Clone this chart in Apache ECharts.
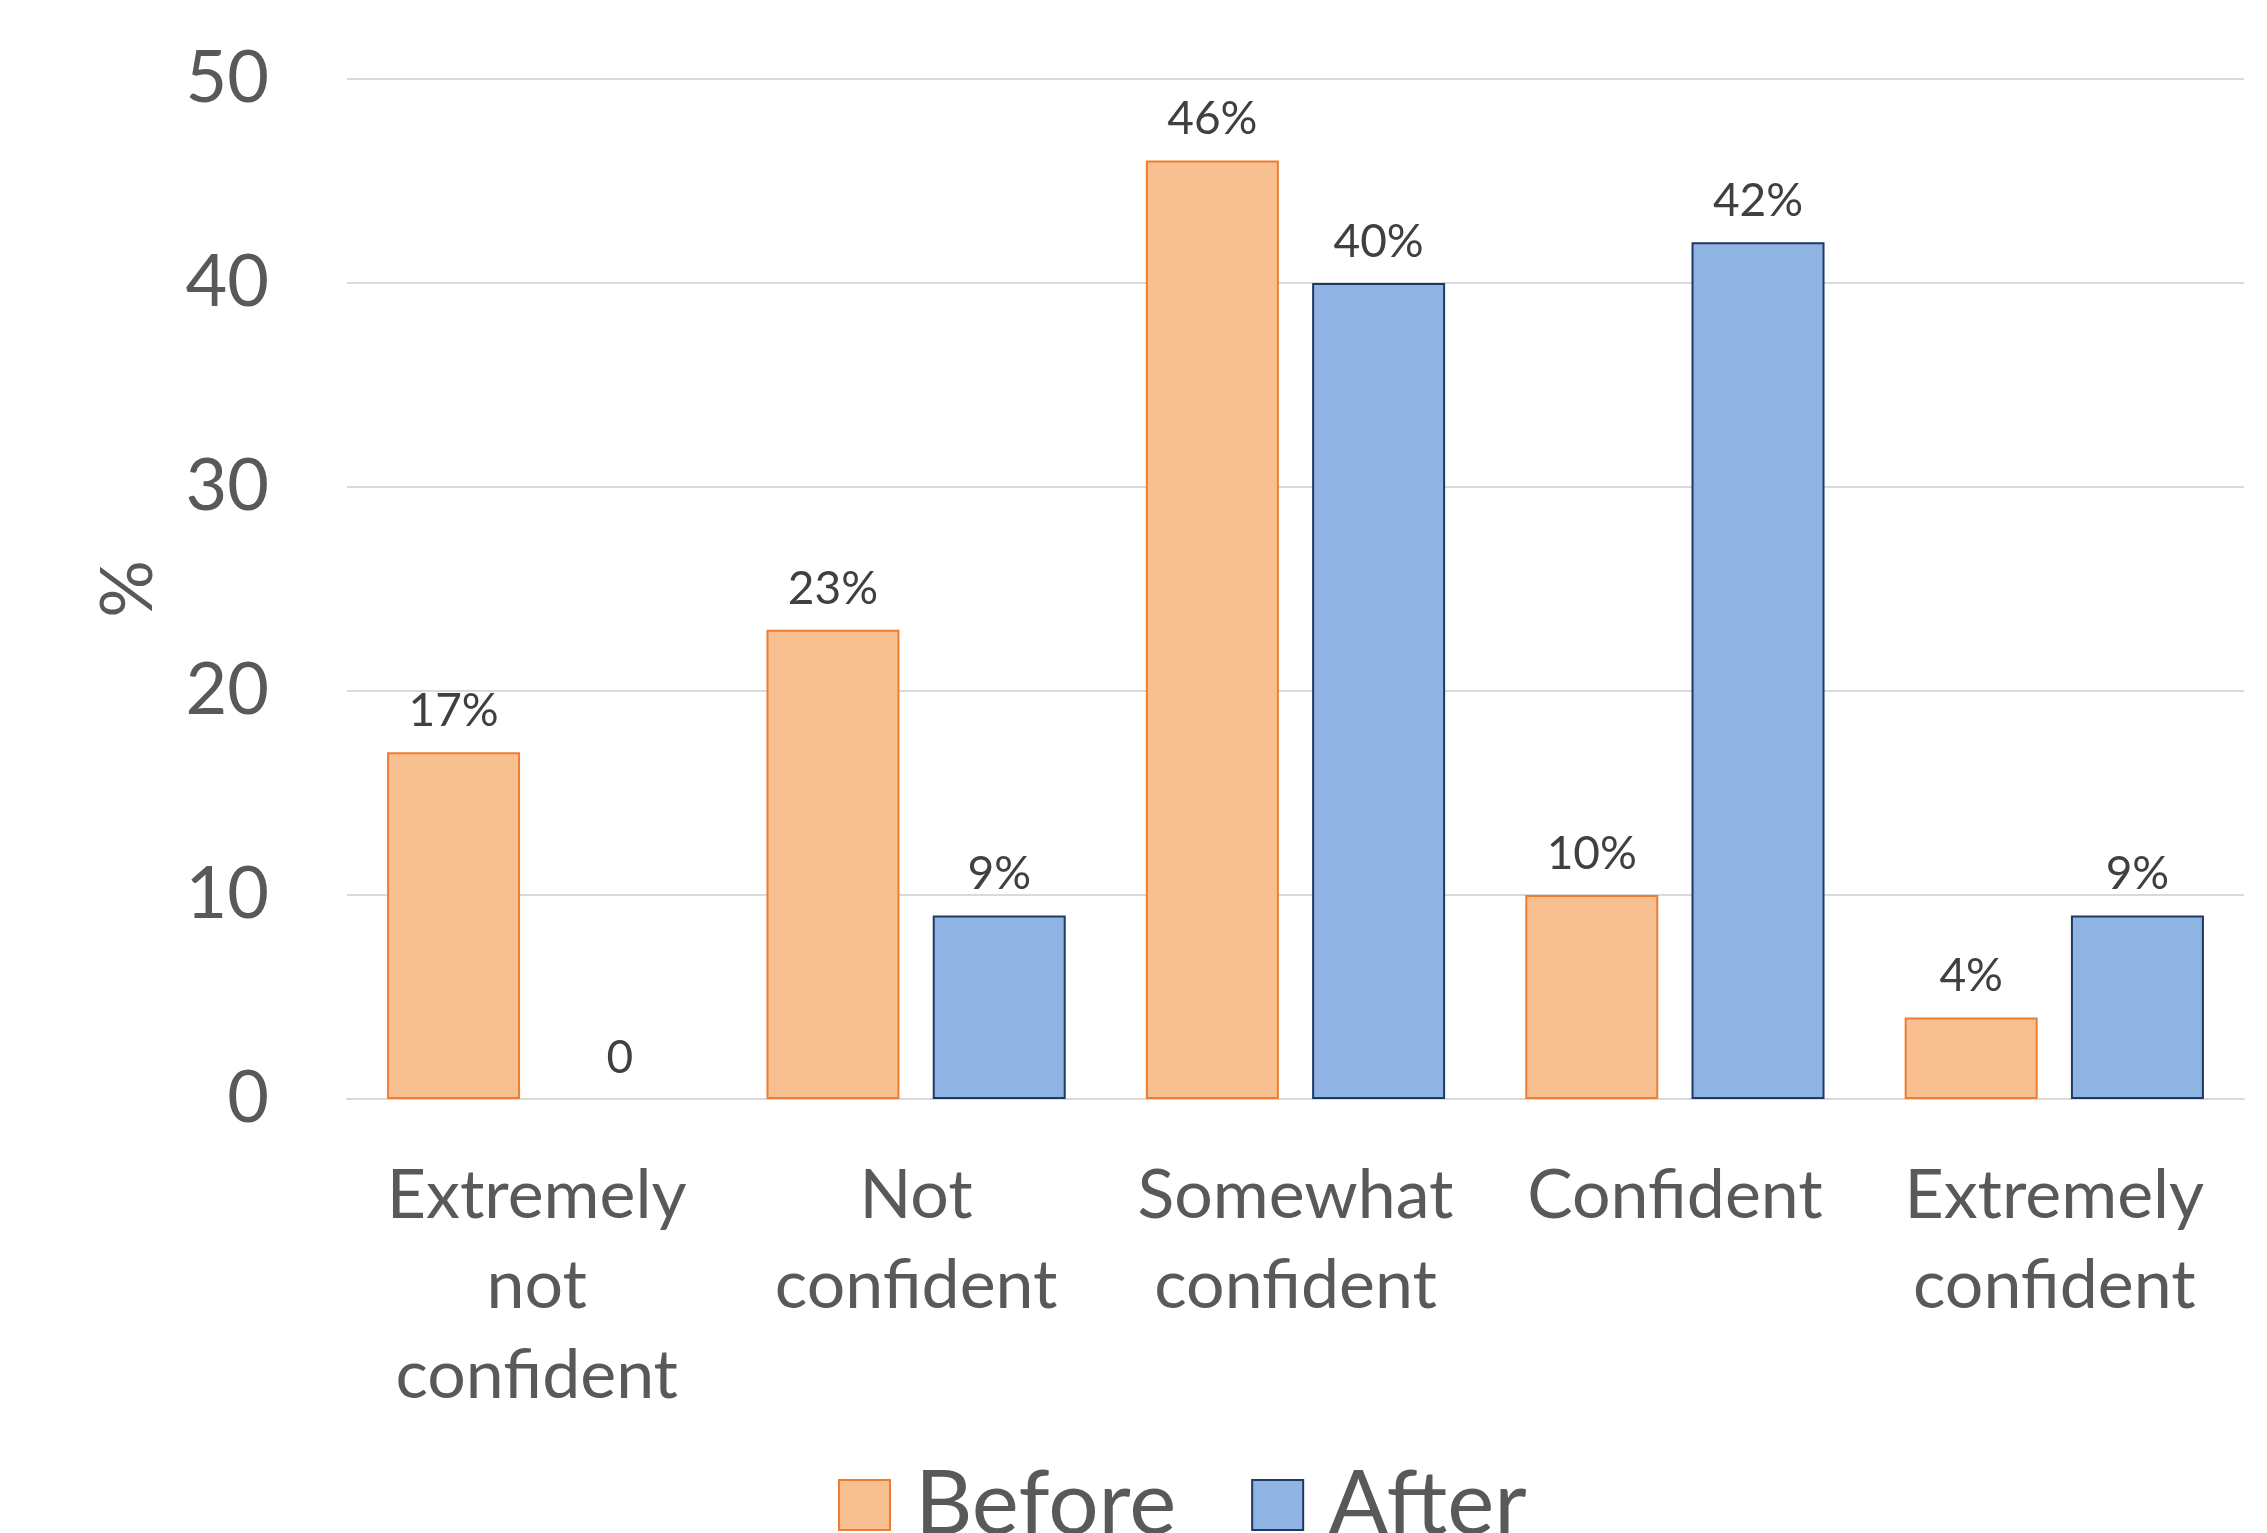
<!DOCTYPE html>
<html>
<head>
    <meta charset="utf-8">
    <title>ECharts</title>
    <script src="https://cdn.jsdelivr.net/npm/echarts@6/dist/echarts.min.js"></script>
    <style>
        html, body { margin: 0; padding: 0; background: #fff; }
    </style>
</head>
<body>
    <div id="main" style="width: 2267px;height:1533px;"></div>
    <script type="text/javascript">
        // data
        var categories = ['Extremely\nnot\nconfident', 'Not\nconfident', 'Somewhat\nconfident', 'Confident', 'Extremely\nconfident'];
        var before = [17, 23, 46, 10, 4];
        var after = [0, 9, 40, 42, 9];
        var yTicks = [0, 10, 20, 30, 40, 50];

        var myChart = echarts.init(document.getElementById('main'));

        var font = 'Lato, "Open Sans", sans-serif';

        function pctLabel(p) {
            return p.value === 0 ? '0' : p.value + '%';
        }

        // zero-height bars get no outline (Excel draws nothing there)
        function toItems(arr) {
            return arr.map(function (v) {
                return v === 0 ? { value: v, itemStyle: { borderWidth: 0 } } : v;
            });
        }

        var option = {
            backgroundColor: '#ffffff',
            textStyle: { fontFamily: font },
            grid: {
                left: 347,
                right: 23,
                top: 79,
                bottom: 434
            },
            legend: {
                data: ['Before', 'After'],
                left: 833,
                top: 1455,
                icon: 'rect',
                itemWidth: 51,
                itemHeight: 50,
                itemGap: 75,
                textStyle: {
                    fontSize: 89,
                    color: '#595959',
                    lineHeight: 90,
                    padding: [0, 0, 0, 20]
                }
            },
            xAxis: {
                type: 'category',
                data: categories,
                axisLine: { lineStyle: { color: '#D9D9D9', width: 2 } },
                axisTick: { show: false },
                axisLabel: {
                    fontSize: 68,
                    color: '#595959',
                    lineHeight: 90,
                    margin: 52,
                    interval: 0
                }
            },
            yAxis: {
                type: 'value',
                min: yTicks[0],
                max: yTicks[yTicks.length - 1],
                interval: 10,
                name: '%',
                nameLocation: 'middle',
                nameGap: 182,
                nameTextStyle: { fontSize: 72, color: '#595959' },
                axisLine: { show: false },
                axisTick: { show: false },
                axisLabel: { fontSize: 72, color: '#595959', margin: 78 },
                splitLine: { lineStyle: { color: '#D9D9D9', width: 2 } }
            },
            series: [
                {
                    name: 'Before',
                    type: 'bar',
                    data: toItems(before),
                    barWidth: 133,
                    barGap: '25%',
                    itemStyle: { color: '#F8C091', borderColor: '#ED7D31', borderWidth: 2 },
                    label: {
                        show: true,
                        position: 'top',
                        distance: 18,
                        fontSize: 46,
                        color: '#404040',
                        formatter: pctLabel
                    }
                },
                {
                    name: 'After',
                    type: 'bar',
                    data: toItems(after),
                    barWidth: 133,
                    barGap: '25%',
                    itemStyle: { color: '#8FB4E3', borderColor: '#203864', borderWidth: 2 },
                    label: {
                        show: true,
                        position: 'top',
                        distance: 18,
                        fontSize: 46,
                        color: '#404040',
                        formatter: pctLabel
                    }
                }
            ]
        };

        myChart.setOption(option);
    </script>
</body>
</html>
